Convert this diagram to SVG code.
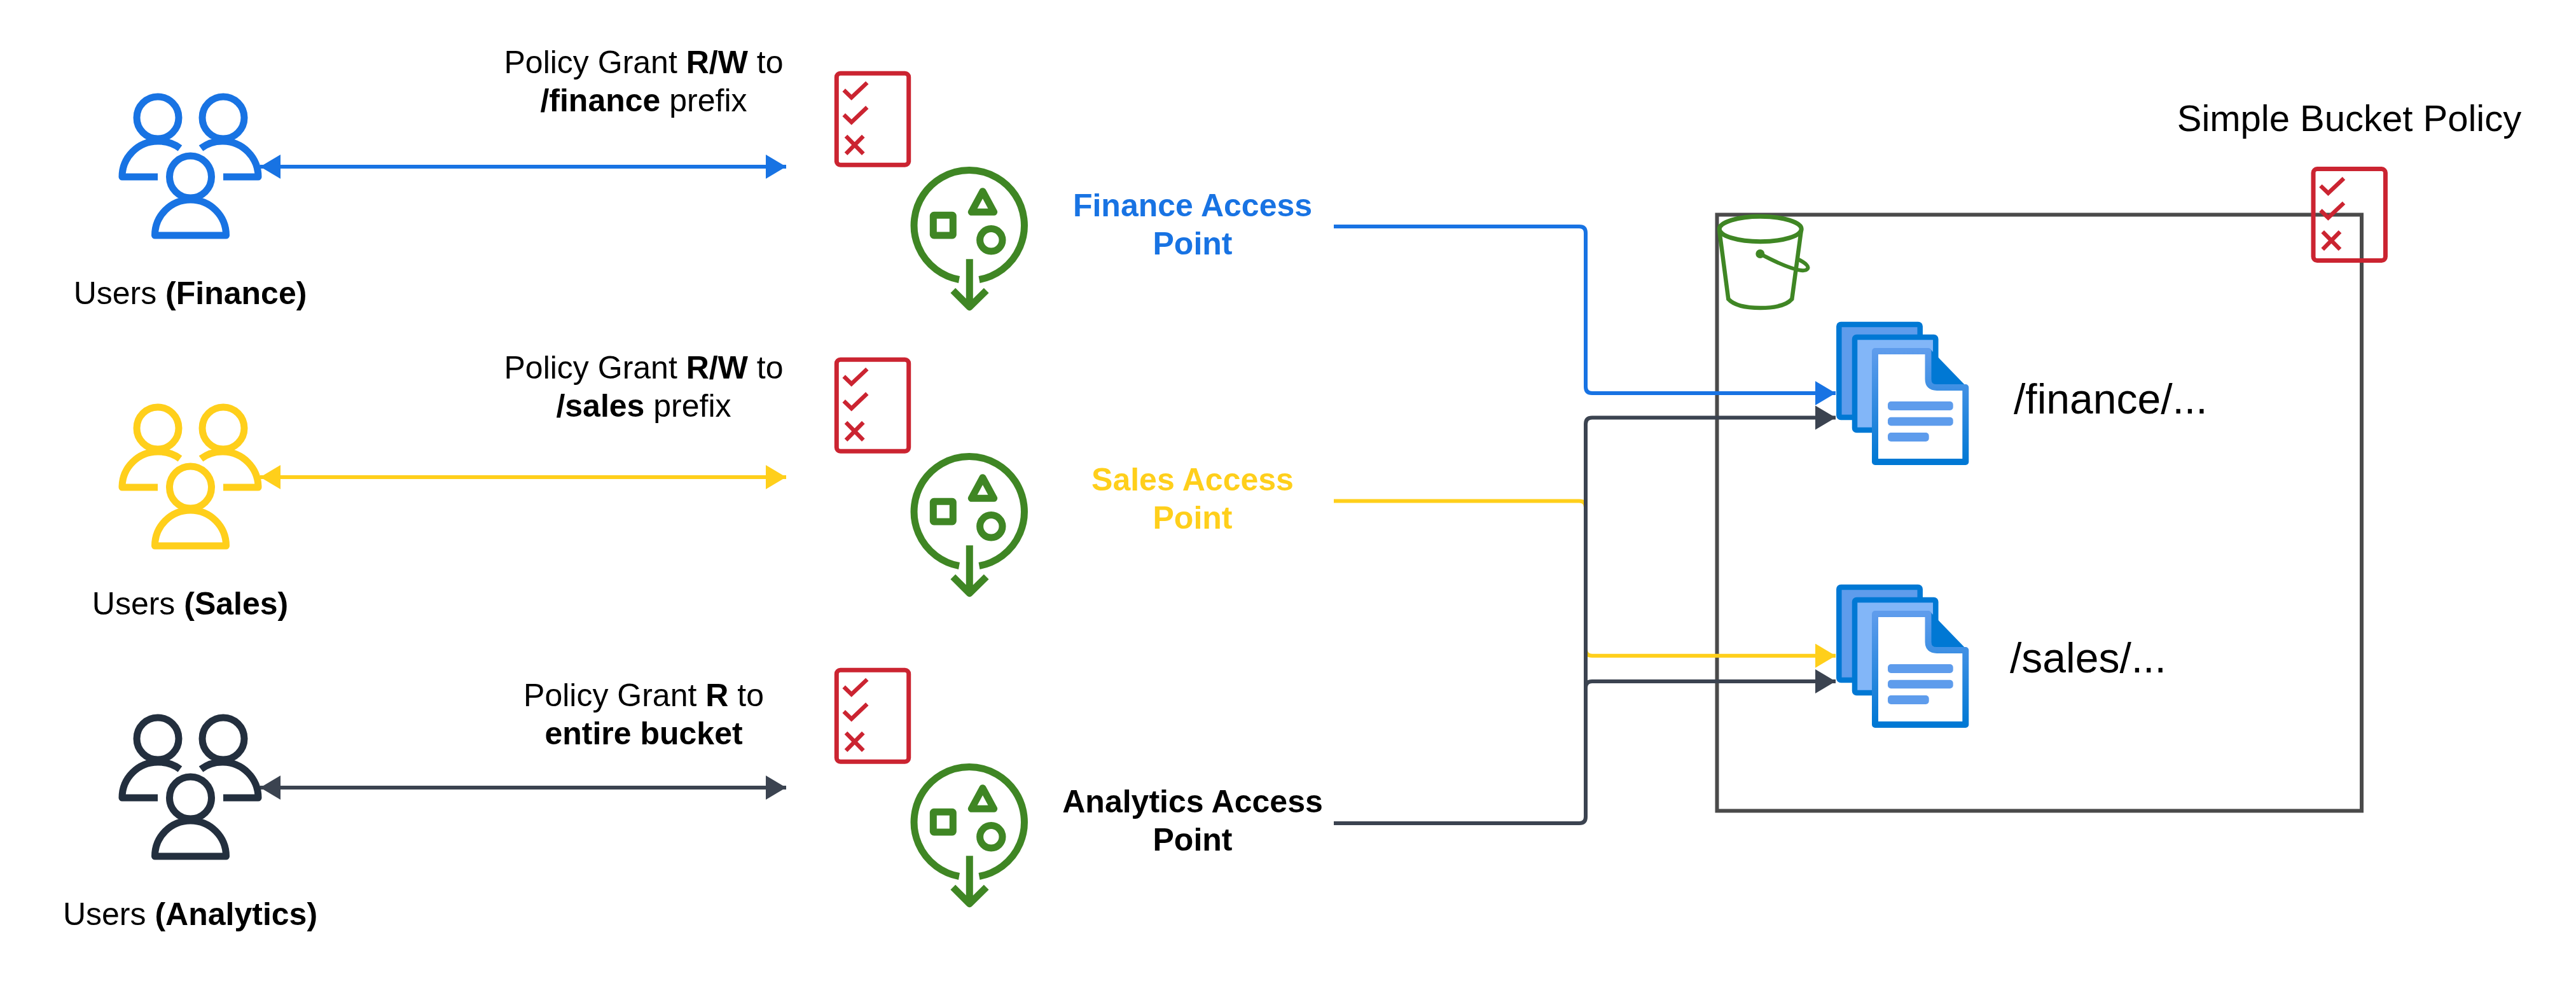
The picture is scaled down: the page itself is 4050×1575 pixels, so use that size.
<svg xmlns="http://www.w3.org/2000/svg" width="4050" height="1575" viewBox="0 0 4050 1575">
<style>
text{font-family:"Liberation Sans",Arial,sans-serif;font-size:50px;fill:#000;text-anchor:middle}
.b{font-weight:700}
.big{font-size:66px;text-anchor:start}
.ln{fill:none;stroke-width:6;stroke-linejoin:round}
.ic{fill:none;stroke-width:11;stroke-linejoin:round}
.red{fill:none;stroke:#cb2431;stroke-width:7}
.redm{fill:none;stroke:#cb2431;stroke-width:6.500}
.green{fill:none;stroke:#3f8624;stroke-width:11;stroke-linejoin:round}
.mline{fill:#5e9cec}
</style>
<defs>
<marker id="mBlue" markerUnits="userSpaceOnUse" markerWidth="32" markerHeight="38" refX="32" refY="19" orient="auto-start-reverse"><path d="M0 0L32 19L0 38Z" fill="#1873e3"/></marker>
<marker id="mYellow" markerUnits="userSpaceOnUse" markerWidth="32" markerHeight="38" refX="32" refY="19" orient="auto-start-reverse"><path d="M0 0L32 19L0 38Z" fill="#ffcf1b"/></marker>
<marker id="mDark" markerUnits="userSpaceOnUse" markerWidth="32" markerHeight="38" refX="32" refY="19" orient="auto-start-reverse"><path d="M0 0L32 19L0 38Z" fill="#3b4350"/></marker>
<linearGradient id="docStroke" x1="0" y1="0" x2="0" y2="1"><stop offset="0" stop-color="#5e9cec"/><stop offset="1" stop-color="#0078d4"/></linearGradient>
<g id="users">
<circle cx="248" cy="185" r="33"/><circle cx="351" cy="185" r="33"/><circle cx="299.500" cy="278" r="33"/>
<path d="M283 233A56 56 0 0 0 248 222A56 56 0 0 0 192 278H248"/>
<path d="M316 233A56 56 0 0 1 351 222A56 56 0 0 1 406 278H351"/>
<path d="M243.500 370A56 56 0 0 1 355.500 370Z"/>
</g>
<g id="policy">
<rect class="red" x="1315.300" y="115.300" width="113.400" height="144" rx="6"/>
<path class="redm" d="M1326.700 141.700L1338.700 153.300L1363.300 130M1326.700 180.400L1338.700 192L1363.300 168.700M1330 214L1357.300 241.700M1357.300 214L1330 241.700"/>
</g>
<g id="ap">
<path class="green" d="M1508 439.500A86.700 86.700 0 1 1 1539.500 439.500"/>
<path class="green" d="M1524.300 407.300V480M1498.300 456.700L1524.300 482.700L1550.700 456.700"/>
<rect class="green" x="1467.300" y="338.300" width="31" height="31.700" rx="1"/>
<path class="green" d="M1545 300.700L1527.300 333.300H1562.700Z"/>
<circle class="green" cx="1558.300" cy="377.300" r="17.700"/>
</g>
<g id="doc">
<rect x="2891.300" y="510" width="127.400" height="146" rx="3" fill="#5e9cec" stroke="#0078d4" stroke-width="8.500"/>
<rect x="2916" y="530" width="127.300" height="146" rx="3" fill="#82b6f8" stroke="#0078d4" stroke-width="8.500"/>
<path d="M3031.500 550V596Q3031.500 609 3045 609H3093L3034 548Z" fill="#0078d4"/>
<path d="M2948 552H3031.500V596Q3031.500 609 3045 609H3090.300V726H2948Z" fill="#fff" stroke="url(#docStroke)" stroke-width="10" stroke-linejoin="round"/>
<rect class="mline" x="2968" y="631" width="102.700" height="14" rx="5"/>
<rect class="mline" x="2968" y="655.700" width="102.700" height="13.600" rx="5"/>
<rect class="mline" x="2968" y="680" width="64.700" height="14" rx="5"/>
</g>
</defs>

<g id="bucket-box">
<rect x="2699.500" y="337.500" width="1013.500" height="937" fill="none" stroke="#4a4a4a" stroke-width="6"/>
</g>

<g id="connectors">
<path class="ln" stroke="#ffcf1b" d="M2097 787.500H2483Q2493 787.500 2493 797.500V1020.700Q2493 1030.700 2503 1030.700H2886" marker-end="url(#mYellow)"/>
<path class="ln" stroke="#1873e3" d="M2097 356H2483Q2493 356 2493 366V608Q2493 618 2503 618H2886" marker-end="url(#mBlue)"/>
<path class="ln" stroke="#3b4350" d="M2097 1294H2483Q2493 1294 2493 1284V666.500Q2493 656.500 2503 656.500H2886" marker-end="url(#mDark)"/>
<path class="ln" stroke="#3b4350" d="M2493 1284V1081Q2493 1071 2503 1071H2886" marker-end="url(#mDark)"/>
<path class="ln" stroke="#1873e3" d="M409 262H1236" marker-start="url(#mBlue)" marker-end="url(#mBlue)"/>
<path class="ln" stroke="#ffcf1b" d="M409 750H1236" marker-start="url(#mYellow)" marker-end="url(#mYellow)"/>
<path class="ln" stroke="#3b4350" d="M409 1238H1236" marker-start="url(#mDark)" marker-end="url(#mDark)"/>
</g>

<g id="users-finance">
<use href="#users" class="ic" stroke="#1873e3"/>
<text x="299" y="478">Users <tspan class="b">(Finance)</tspan></text>
</g>
<g id="users-sales">
<use href="#users" class="ic" stroke="#ffcf1b" y="488"/>
<text x="299" y="966">Users <tspan class="b">(Sales)</tspan></text>
</g>
<g id="users-analytics">
<use href="#users" class="ic" stroke="#232f3e" y="976"/>
<text x="299" y="1454">Users <tspan class="b">(Analytics)</tspan></text>
</g>

<g id="grant-finance">
<text x="1012" y="115">Policy Grant <tspan class="b">R/W</tspan> to</text>
<text x="1012" y="175"><tspan class="b">/finance</tspan> prefix</text>
<use href="#policy"/>
</g>
<g id="grant-sales">
<text x="1012" y="595">Policy Grant <tspan class="b">R/W</tspan> to</text>
<text x="1012" y="655"><tspan class="b">/sales</tspan> prefix</text>
<use href="#policy" y="450"/>
</g>
<g id="grant-analytics">
<text x="1012" y="1110">Policy Grant <tspan class="b">R</tspan> to</text>
<text x="1012" y="1170" class="b">entire bucket</text>
<use href="#policy" y="938"/>
</g>

<g id="ap-finance">
<use href="#ap"/>
<text x="1875" y="340" class="b" style="fill:#1873e3">Finance Access</text>
<text x="1875" y="400" class="b" style="fill:#1873e3">Point</text>
</g>
<g id="ap-sales">
<use href="#ap" y="450"/>
<text x="1875" y="771" class="b" style="fill:#ffcf1b">Sales Access</text>
<text x="1875" y="831" class="b" style="fill:#ffcf1b">Point</text>
</g>
<g id="ap-analytics">
<use href="#ap" y="938"/>
<text x="1875" y="1277" class="b">Analytics Access</text>
<text x="1875" y="1337" class="b">Point</text>
</g>

<g id="bucket-icon" fill="none" stroke="#3f8624">
<ellipse cx="2767.700" cy="360" rx="64.500" ry="19.700" stroke-width="7"/>
<path d="M2703.300 363.300L2717.300 470Q2730 484 2767.700 484Q2805 484 2817.300 470L2831.700 363.300" stroke-width="6.500"/>
<circle cx="2767.300" cy="399" r="7" fill="#3f8624" stroke="none"/>
<path d="M2767.300 399C2790 411 2815 423 2832 425C2842 426 2845 421 2840 416Q2836 412 2828 408" stroke-width="6"/>
</g>

<g id="doc-finance">
<use href="#doc"/>
<text class="big" x="3166" y="650">/finance/...</text>
</g>
<g id="doc-sales">
<use href="#doc" y="413"/>
<text class="big" x="3160" y="1057">/sales/...</text>
</g>

<g id="bucket-policy">
<text x="3693.500" y="205.500" style="font-size:58px">Simple Bucket Policy</text>
<use href="#policy" x="2321.700" y="150.300"/>
</g>
</svg>
